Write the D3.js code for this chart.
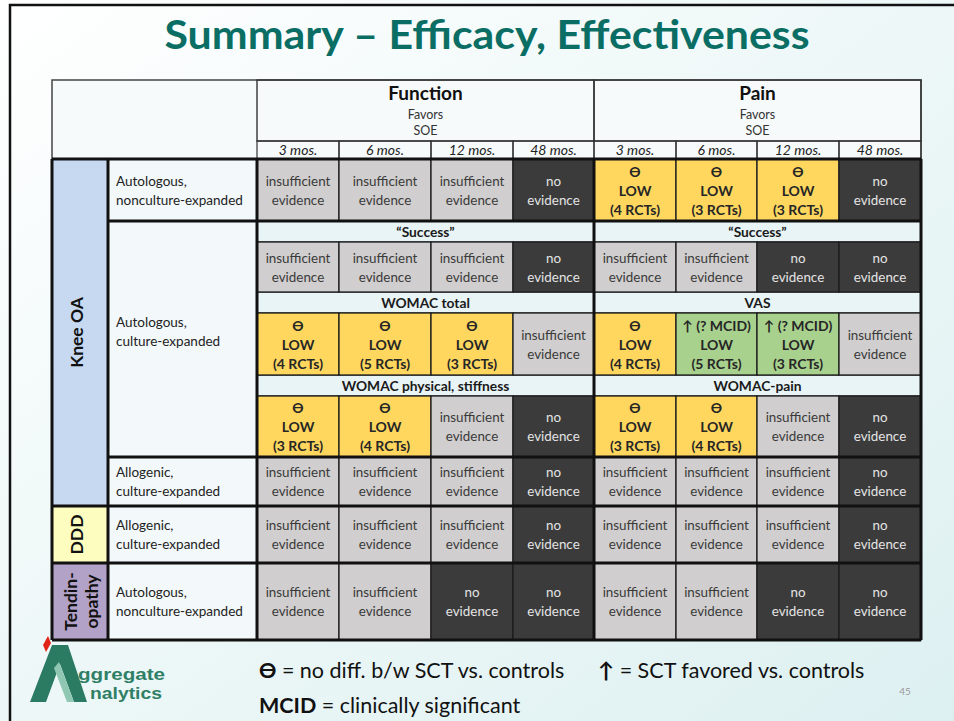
<!DOCTYPE html>
<html><head><meta charset="utf-8">
<script src="https://cdn.jsdelivr.net/npm/d3@7"></script>
<style>html,body{margin:0;padding:0;overflow:hidden;background:#fff}</style>
</head><body><svg id="c" width="954" height="721"></svg>
<script>
// ---------- DATA ----------
const title = "Summary – Efficacy, Effectiveness";
const outcomes = ["Function", "Pain"];
const outcomeSub = ["Favors", "SOE"];
const timepoints = ["3 mos.", "6 mos.", "12 mos.", "48 mos."];
const conditions = ["Knee OA", "DDD", "Tendin-|opathy"];
const conditionRows = [[0, 4], [5, 5], [6, 6]];          // body rows spanned
const therapies = ["Autologous,|nonculture-expanded", "Autologous,|culture-expanded",
  "Allogenic,|culture-expanded", "Allogenic,|culture-expanded", "Autologous,|nonculture-expanded"];
const therapyRows = [[0, 0], [1, 3], [4, 4], [5, 5], [6, 6]];
const measuresFunction = ["“Success”", "WOMAC total", "WOMAC physical, stiffness"];
const measuresPain = ["“Success”", "VAS", "WOMAC-pain"];
// I = insufficient evidence, N = no evidence, Tn = no difference LOW (n RCTs), Un = SCT favored (? MCID) LOW (n RCTs)
const functionCells = [
  ["I", "I", "I", "N"],
  ["I", "I", "I", "N"],
  ["T4", "T5", "T3", "I"],
  ["T3", "T4", "I", "N"],
  ["I", "I", "I", "N"],
  ["I", "I", "I", "N"],
  ["I", "I", "N", "N"]];
const painCells = [
  ["T4", "T3", "T3", "N"],
  ["I", "I", "N", "N"],
  ["T4", "U5", "U3", "I"],
  ["T3", "T4", "I", "N"],
  ["I", "I", "I", "N"],
  ["I", "I", "I", "N"],
  ["I", "I", "N", "N"]];
const legendItems = [["ϴ", " = no diff. b/w SCT vs. controls"], ["↑", " = SCT favored vs. controls"], ["MCID", " = clinically significant"]];
const pageNumber = "45";

// ---------- LAYOUT ----------
const svg = d3.select("#c");
const F = "Lato, 'Open Sans', sans-serif";
const colEdges = [257, 339, 431, 513, 594, 676, 757, 839, 921];
const rowEdges = [80, 141, 159, 221, 242, 292, 313, 375, 396, 457, 506, 563, 640];
const x = d3.scaleLinear().domain(d3.range(colEdges.length)).range(colEdges);
const y = d3.scaleLinear().domain(d3.range(rowEdges.length)).range(rowEdges);
const bodySlot = [2, 4, 6, 8, 9, 10, 11];
const subSlot = [3, 5, 7];
const L0 = 52, L1 = 108, L2 = 257, R = 921;

const colors = { I: "#d0cece", N: "#3b3b3b", T: "#ffd75e", U: "#a9d18e" };
const catColors = ["#c6d9f0", "#fdfdbf", "#b3a2c7"];

// background
const defs = svg.append("defs");
const g = defs.append("linearGradient").attr("id", "bg").attr("x1", "0").attr("y1", "0").attr("x2", "1").attr("y2", "1");
g.append("stop").attr("offset", "0").attr("stop-color", "#ffffff");
g.append("stop").attr("offset", "0.45").attr("stop-color", "#eff8f8");
g.append("stop").attr("offset", "1").attr("stop-color", "#ddf0f1");
svg.append("rect").attr("width", 954).attr("height", 721).attr("fill", "url(#bg)");
svg.append("path").attr("d", "M10,721 V5 H954").attr("fill", "none").attr("stroke", "#111").attr("stroke-width", 2.5);

// title
svg.append("text").attr("x", 487).attr("y", 49).attr("text-anchor", "middle")
  .attr("font-family", F).attr("font-weight", 700).attr("font-size", 40)
  .attr("fill", "#0b6e65").attr("textLength", 645).attr("lengthAdjust", "spacingAndGlyphs").text(title);

// header area
svg.append("rect").attr("x", L0).attr("y", y(0)).attr("width", R - L0).attr("height", y(2) - y(0))
  .attr("fill", "#f6fafb").attr("stroke", "#444").attr("stroke-width", 1.5);
outcomes.forEach((o, k) => {
  const x0 = x(k * 4), x1 = x(k * 4 + 4), cx = (x0 + x1) / 2;
  svg.append("rect").attr("x", x0).attr("y", y(0)).attr("width", x1 - x0).attr("height", y(1) - y(0))
    .attr("fill", "none").attr("stroke", "#333").attr("stroke-width", 1.4);
  svg.append("text").attr("x", cx).attr("y", 100).attr("text-anchor", "middle").attr("font-family", F)
    .attr("font-weight", 700).attr("font-size", 19).attr("fill", "#111").text(o);
  outcomeSub.forEach((s, j) => svg.append("text").attr("x", cx).attr("y", 119 + j * 16).attr("text-anchor", "middle")
    .attr("font-family", F).attr("font-size", 12.5).attr("fill", "#333").text(s));
  timepoints.forEach((t, i) => {
    const c = k * 4 + i;
    svg.append("rect").attr("x", x(c)).attr("y", y(1)).attr("width", x(c + 1) - x(c)).attr("height", y(2) - y(1))
      .attr("fill", "none").attr("stroke", "#333").attr("stroke-width", 1.2);
    svg.append("text").attr("x", (x(c) + x(c + 1)) / 2).attr("y", 155).attr("text-anchor", "middle")
      .attr("font-family", F).attr("font-style", "italic").attr("font-size", 14).attr("fill", "#222").text(t);
  });
});

// condition bands
conditions.forEach((c, k) => {
  const [a, b] = conditionRows[k];
  const y0 = y(bodySlot[a]), y1 = y(bodySlot[b] + 1);
  svg.append("rect").attr("x", L0).attr("y", y0).attr("width", L1 - L0).attr("height", y1 - y0).attr("fill", catColors[k]);
  const lines = c.split("|");
  const cx = lines.length > 1 ? 81 : 76, cy = (y0 + y1) / 2;
  const t = svg.append("text").attr("transform", `translate(${cx},${cy}) rotate(-90)`).attr("text-anchor", "middle")
    .attr("font-family", F).attr("font-weight", 700).attr("font-size", 17.5).attr("fill", "#111");
  lines.forEach((l, i) => t.append("tspan").attr("x", 0).attr("y", (i - (lines.length - 1) / 2) * 21)
    .attr("dominant-baseline", "central").text(l));
});

// therapy labels
therapies.forEach((th, k) => {
  const [a, b] = therapyRows[k];
  const y0 = b > a ? y(bodySlot[a] - 1) : y(bodySlot[a]), y1 = y(bodySlot[b] + 1);
  svg.append("rect").attr("x", L1).attr("y", y0).attr("width", L2 - L1).attr("height", y1 - y0).attr("fill", "#f3f9fa");
  const cy = (y0 + y1) / 2 - (b > a ? 8 : 0);
  const lines = th.split("|");
  lines.forEach((l, i) => svg.append("text").attr("x", 116).attr("y", cy + (i - 0.5) * 19)
    .attr("dominant-baseline", "central").attr("font-family", F).attr("font-size", 13.5).attr("fill", "#222").text(l));
});

// measure subheaders
[measuresFunction, measuresPain].forEach((ms, k) => {
  ms.forEach((m, j) => {
    const s = subSlot[j];
    const x0 = x(k * 4), x1 = x(k * 4 + 4);
    svg.append("rect").attr("x", x0).attr("y", y(s)).attr("width", x1 - x0).attr("height", y(s + 1) - y(s))
      .attr("fill", "#e8f4f6").attr("stroke", "#222").attr("stroke-width", 1.3);
    svg.append("text").attr("x", (x0 + x1) / 2).attr("y", (y(s) + y(s + 1)) / 2).attr("dominant-baseline", "central")
      .attr("text-anchor", "middle").attr("font-family", F).attr("font-weight", 700).attr("font-size", 13.8)
      .attr("fill", "#1a1a1a").text(m);
  });
});

// cells
function cellLines(v) {
  const t = v[0];
  if (t === "I") return ["insufficient", "evidence"];
  if (t === "N") return ["no", "evidence"];
  const n = v.slice(1);
  return [t === "T" ? "ϴ" : "↑ (? MCID)", "LOW", `(${n} RCTs)`];
}
const cells = [];
functionCells.forEach((row, r) => row.forEach((v, c) => cells.push({ r, c, v })));
painCells.forEach((row, r) => row.forEach((v, c) => cells.push({ r, c: c + 4, v })));
const cg = svg.append("g").selectAll("g").data(cells).join("g");
cg.append("rect")
  .attr("x", d => x(d.c)).attr("y", d => y(bodySlot[d.r]))
  .attr("width", d => x(d.c + 1) - x(d.c)).attr("height", d => y(bodySlot[d.r] + 1) - y(bodySlot[d.r]))
  .attr("fill", d => colors[d.v[0]]).attr("stroke", "#1c1c1c").attr("stroke-width", 1.3);
cg.each(function (d) {
  const lines = cellLines(d.v);
  const bold = lines.length === 3;
  const cx = (x(d.c) + x(d.c + 1)) / 2;
  const cy = (y(bodySlot[d.r]) + y(bodySlot[d.r] + 1)) / 2;
  lines.forEach((l, i) => d3.select(this).append("text").attr("x", cx).attr("y", cy + (i - (lines.length - 1) / 2) * 19)
    .attr("dominant-baseline", "central").attr("text-anchor", "middle").attr("font-family", F)
    .attr("font-weight", bold ? 700 : 400).attr("font-size", bold ? 14 : 13.4)
    .attr("fill", d.v[0] === "N" ? "#e4e4e4" : (bold ? "#262626" : "#3a3a3a")).text(l));
});

// thick group lines
const thick = svg.append("g").attr("stroke", "#111").attr("stroke-width", 3).attr("fill", "none");
[[L0, y(2)], [L1, y(3)], [L1, y(9)], [L0, y(10)], [L0, y(11)], [L0, y(12)]].forEach(([xa, yy]) =>
  thick.append("line").attr("x1", xa).attr("x2", R).attr("y1", yy).attr("y2", yy));
[L0, L1, L2, x(4), R].forEach(xx => thick.append("line").attr("x1", xx).attr("x2", xx).attr("y1", y(2)).attr("y2", y(12)));

// logo
const logo = svg.append("g");
logo.append("polygon").attr("points", "30,702 52,645 68,645 87,702 74,702 60,664 46,702").attr("fill", "#2b7a62");
logo.append("polygon").attr("points", "54,668 59,662 74,702 67,702").attr("fill", "#8fc7b2");
logo.append("polygon").attr("points", "48,636 51,643 46,652 43,645").attr("fill", "#e02418");
logo.append("text").attr("x", 78).attr("y", 680).attr("font-family", "'Liberation Sans', Arial, sans-serif")
  .attr("font-weight", 700).attr("font-size", 16).attr("fill", "#2f7f66")
  .attr("textLength", 87).attr("lengthAdjust", "spacingAndGlyphs").text("ggregate");
logo.append("text").attr("x", 90).attr("y", 699).attr("font-family", "'Liberation Sans', Arial, sans-serif")
  .attr("font-weight", 700).attr("font-size", 16).attr("fill", "#2f7f66")
  .attr("textLength", 72).attr("lengthAdjust", "spacingAndGlyphs").text("nalytics");

// legend
const legPos = [[259, 678], [598, 678], [259, 713]];
legendItems.forEach(([sym, txt], i) => {
  const t = svg.append("text").attr("x", legPos[i][0]).attr("y", legPos[i][1]).attr("font-family", F)
    .attr("font-size", 21.5).attr("fill", "#111");
  t.append("tspan").attr("font-weight", 700).text(sym);
  t.append("tspan").text(txt);
});
svg.append("text").attr("x", 905).attr("y", 695).attr("text-anchor", "middle").attr("font-family", F)
  .attr("font-size", 10).attr("fill", "#9a9a9a").text(pageNumber);
</script></body></html>
